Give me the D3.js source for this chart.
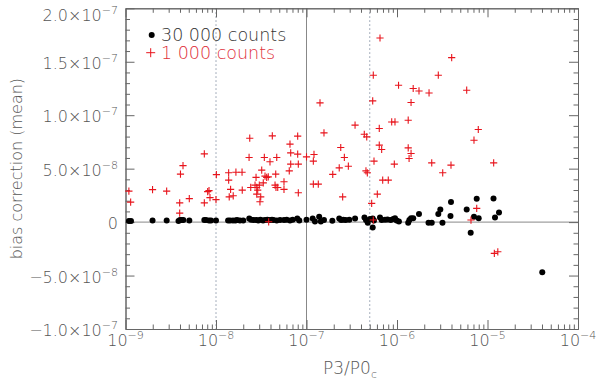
<!DOCTYPE html>
<html><head><meta charset="utf-8">
<script src="https://cdn.jsdelivr.net/npm/d3@7"></script>
<style>
body{margin:0;background:#fff}
svg{display:block}
text{font-family:"DejaVu Sans",sans-serif;font-weight:200}
</style>
</head><body><svg id="c" width="600" height="383"></svg>
<script>
// ---- data (x = P3/P0c, y = bias correction (mean)) ----
const series30k = [
[1.09e-9,0.1e-8],[1.15e-9,0.1e-8],[1.99e-9,0.14e-8],[2.85e-9,0.14e-8],[3.85e-9,0.1e-8],[4.0e-9,0.19e-8],[4.18e-9,0.19e-8],[4.35e-9,0.19e-8],[5.07e-9,0.14e-8],[7.43e-9,0.19e-8],[7.75e-9,0.19e-8],[8.37e-9,0.14e-8],[8.81e-9,0.14e-8],[1.0e-8,0.14e-8],
[1.36e-8,0.14e-8],[1.43e-8,0.14e-8],[1.54e-8,0.14e-8],[1.64e-8,0.14e-8],[1.71e-8,0.19e-8],[1.84e-8,0.14e-8],[2.0e-8,0.14e-8],[2.33e-8,0.33e-8],[2.44e-8,0.23e-8],[2.6e-8,0.19e-8],[2.8e-8,0.19e-8],[2.93e-8,0.14e-8],[3.1e-8,0.23e-8],[3.31e-8,0.14e-8],[3.48e-8,0.19e-8],[3.69e-8,0.23e-8],[3.95e-8,0.19e-8],[4.16e-8,0.23e-8],[4.32e-8,0.19e-8],[4.69e-8,0.14e-8],[5.1e-8,0.19e-8],[5.64e-8,0.19e-8],[6.04e-8,0.23e-8],[6.57e-8,0.14e-8],[7.04e-8,0.23e-8],[7.91e-8,0.33e-8],[8.33e-8,0.14e-8],
[1.0e-7,0.23e-8],[1.17e-7,0.33e-8],[1.24e-7,0.05e-8],[1.38e-7,0.51e-8],[1.44e-7,0.05e-8],[1.56e-7,0.19e-8],[1.93e-7,0.12e-8],[2.3e-7,0.33e-8],[2.41e-7,0.19e-8],[2.55e-7,0.23e-8],[2.71e-7,0.19e-8],[2.97e-7,0.23e-8],[3.44e-7,0.33e-8],[4.37e-7,0.42e-8],[4.54e-7,0.19e-8],[4.75e-7,-0.07e-8],[5.03e-7,0.28e-8],[5.39e-7,0.33e-8],[5.57e-7,0.14e-8],[5.39e-7,-0.5e-8],[6.49e-7,0.42e-8],[6.77e-7,0.19e-8],[7.37e-7,0.23e-8],[7.85e-7,0.25e-8],[8.52e-7,0.19e-8],[9.1e-7,0.28e-8],[9.5e-7,0.35e-8],[9.92e-7,0.14e-8],
[1.05e-6,0.05e-8],[1.33e-6,-0.05e-8],[1.37e-6,0.19e-8],[1.43e-6,0.35e-8],[1.51e-6,0.37e-8],[1.75e-6,0.75e-8],[2.23e-6,-0.05e-8],[2.42e-6,-0.05e-8],[2.86e-6,0.75e-8],[3.01e-6,1.19e-8],[3.18e-6,-0.07e-8],[3.9e-6,0.56e-8],[3.95e-6,1.87e-8],[5.89e-6,1.19e-8],[6.52e-6,-1.0e-8],[7.09e-6,0.5e-8],[7.6e-6,2.18e-8],[7.99e-6,0.35e-8],[1.165e-5,2.21e-8],[1.21e-5,0.44e-8],[1.34e-5,0.89e-8],[4.03e-5,-4.7e-8]
];
const series1k = [
[1.09e-9,2.90e-8],[1.14e-9,1.87e-8],[1.99e-9,3.04e-8],[2.85e-9,2.90e-8],[3.97e-9,0.84e-8],[3.97e-9,1.80e-8],[4.05e-9,4.49e-8],[4.32e-9,5.28e-8],[5.07e-9,2.20e-8],[7.43e-9,6.38e-8],[7.43e-9,1.80e-8],[8.09e-9,2.85e-8],[8.37e-9,2.94e-8],[8.58e-9,2.29e-8],[1.01e-8,4.44e-8],[1.0e-8,2.10e-8],
[1.38e-8,4.61e-8],[1.38e-8,3.93e-8],[1.45e-8,3.06e-8],[1.40e-8,2.36e-8],[1.55e-8,2.46e-8],[1.66e-8,4.67e-8],[1.94e-8,4.67e-8],[1.95e-8,2.99e-8],[2.36e-8,7.85e-8],[2.32e-8,6.05e-8],[2.42e-8,3.24e-8],[2.70e-8,3.46e-8],[2.77e-8,4.18e-8],[2.82e-8,3.24e-8],[2.82e-8,2.62e-8],[2.89e-8,2.99e-8],[3.01e-8,3.46e-8],[3.12e-8,2.36e-8],[3.06e-8,1.90e-8],[3.20e-8,4.86e-8],[3.33e-8,3.67e-8],[3.42e-8,6.05e-8],[3.48e-8,4.30e-8],[3.63e-8,4.18e-8],[3.78e-8,4.23e-8],[3.95e-8,5.64e-8],[4.19e-8,8.07e-8],[4.49e-8,3.46e-8],[4.57e-8,4.49e-8],[4.69e-8,6.05e-8],[4.60e-8,3.24e-8],[4.81e-8,3.24e-8],[5.64e-8,3.77e-8],[5.64e-8,3.06e-8],[6.57e-8,7.29e-8],[6.45e-8,4.79e-8],[6.69e-8,6.48e-8],[6.69e-8,5.42e-8],[7.99e-8,8.04e-8],[7.99e-8,6.36e-8],[8.12e-8,5.42e-8],[8.12e-8,2.74e-8],[1.0e-7,6.10e-8],[3.82e-8,0.03e-8],
[6.49e-7,17.22e-8],[5.47e-7,13.74e-8],[1.04e-6,12.80e-8],[1.41e-7,11.15e-8],[5.39e-7,11.34e-8],[8.74e-7,9.37e-8],[9.50e-7,9.37e-8],[3.44e-7,9.07e-8],[6.37e-7,8.76e-8],[1.56e-7,8.35e-8],[4.35e-7,8.22e-8],[4.63e-7,7.97e-8],[6.37e-7,7.20e-8],[6.77e-7,6.79e-8],[2.39e-7,6.98e-8],[2.62e-7,6.05e-8],[1.21e-7,6.33e-8],[1.19e-7,5.70e-8],[5.57e-7,5.70e-8],[9.34e-7,5.42e-8],[2.90e-7,5.23e-8],[2.30e-7,5.07e-8],[4.54e-7,4.79e-8],[4.70e-7,4.61e-8],[1.95e-7,4.46e-8],[6.95e-7,3.93e-8],[8.01e-7,3.93e-8],[1.19e-7,3.55e-8],[1.35e-7,3.55e-8],[6.06e-7,2.62e-8],[2.51e-7,2.36e-8],[5.25e-7,1.75e-8],[5.47e-7,0.19e-8],
[4.02e-6,15.39e-8],[2.86e-6,13.74e-8],[1.51e-6,12.50e-8],[1.75e-6,12.27e-8],[2.26e-6,12.08e-8],[5.89e-6,12.34e-8],[1.43e-6,11.19e-8],[1.33e-6,9.53e-8],[7.91e-6,8.66e-8],[7.09e-6,7.66e-8],[1.33e-6,6.94e-8],[1.43e-6,6.42e-8],[1.36e-6,5.95e-8],[2.42e-6,5.54e-8],[3.95e-6,5.33e-8],[3.20e-6,4.61e-8],[1.17e-5,5.54e-8],[7.60e-6,1.28e-8],[6.57e-6,0.19e-8],[1.19e-5,-2.93e-8],[1.30e-5,-2.78e-8]
];
const seriesNames = ["30 000 counts","1 000 counts"];
const xTickValues = [1e-9,1e-8,1e-7,1e-6,1e-5,1e-4];
const xTickExps = ["\u22129","\u22128","\u22127","\u22126","\u22125","\u22124"];
const yTickValues = [-1e-7,-5e-8,0,5e-8,1e-7,1.5e-7,2e-7];
const yTickMant = ["\u22121.0\u00d710","\u22125.0\u00d710","0","5.0\u00d710","1.0\u00d710","1.5\u00d710","2.0\u00d710"];
const yTickExps = ["\u22127","\u22128","","\u22128","\u22127","\u22127","\u22127"];
const solidRefX = [1e-7];
const dottedRefX = [1e-8,5e-7];
const xTitle = "P3/P0", xTitleSub = "c";
const yTitle = "bias correction (mean)";

// ---- layout ----
const L=125.5, R=578, T=8.3, B=329;
const svg = d3.select("#c");
const x = d3.scaleLog().domain([1e-9,1e-4]).range([L,R]);
const y = d3.scaleLinear().domain([-1e-7,2e-7]).range([B,T]);
const axisCol = "#666", labCol = "#555";
const redCol = "#e8141c";

// reference lines
svg.append("g").selectAll("line").data(dottedRefX).join("line")
  .attr("x1",d=>x(d)).attr("x2",d=>x(d)).attr("y1",T).attr("y2",B)
  .attr("stroke","#8a96a8").attr("stroke-width",1).attr("stroke-dasharray","1.5,2.5");
svg.append("g").selectAll("line").data(solidRefX).join("line")
  .attr("x1",d=>x(d)).attr("x2",d=>x(d)).attr("y1",T).attr("y2",B)
  .attr("stroke","#888").attr("stroke-width",1);
svg.append("line").attr("x1",L).attr("x2",R).attr("y1",y(0)).attr("y2",y(0))
  .attr("stroke","#888").attr("stroke-width",1);

// axes
const xMinor = [];
for (let e=-9;e<-4;e++) for (let m=2;m<=9;m++) xMinor.push(m*Math.pow(10,e));
const yMinor = d3.range(-10,21).filter(i=>i%5!==0).map(i=>i*1e-8);

function styleAxis(g){
  g.selectAll("path,line").attr("stroke",axisCol).attr("stroke-width",1);
  g.selectAll("text").remove();
}
svg.append("g").attr("transform",`translate(0,${B})`)
  .call(d3.axisBottom(x).tickValues(xTickValues).tickSize(-9).tickSizeOuter(0).tickFormat("")).call(styleAxis);
svg.append("g").attr("transform",`translate(0,${B})`)
  .call(d3.axisBottom(x).tickValues(xMinor).tickSize(-4.5).tickSizeOuter(0).tickFormat("")).call(styleAxis);
svg.append("g").attr("transform",`translate(0,${T})`)
  .call(d3.axisTop(x).tickValues(xTickValues).tickSize(-9).tickSizeOuter(0).tickFormat("")).call(styleAxis);
svg.append("g").attr("transform",`translate(0,${T})`)
  .call(d3.axisTop(x).tickValues(xMinor).tickSize(-4.5).tickSizeOuter(0).tickFormat("")).call(styleAxis);
svg.append("g").attr("transform",`translate(${L},0)`)
  .call(d3.axisLeft(y).tickValues(yTickValues).tickSize(-9).tickSizeOuter(0).tickFormat("")).call(styleAxis);
svg.append("g").attr("transform",`translate(${L},0)`)
  .call(d3.axisLeft(y).tickValues(yMinor).tickSize(-4.5).tickSizeOuter(0).tickFormat("")).call(styleAxis);
svg.append("g").attr("transform",`translate(${R},0)`)
  .call(d3.axisRight(y).tickValues(yTickValues).tickSize(-9).tickSizeOuter(0).tickFormat("")).call(styleAxis);
svg.append("g").attr("transform",`translate(${R},0)`)
  .call(d3.axisRight(y).tickValues(yMinor).tickSize(-4.5).tickSizeOuter(0).tickFormat("")).call(styleAxis);

// x tick labels
const xl = svg.append("g").selectAll("text").data(xTickValues).join("text")
  .attr("x",d=>x(d)).attr("y",346).attr("text-anchor","middle")
  .attr("fill",labCol).attr("font-size",16);
xl.append("tspan").text("10");
xl.append("tspan").attr("dy",-7).attr("font-size",11).text((d,i)=>xTickExps[i]);

// y tick labels (top label kept inside the picture, as in the reference)
const yl = svg.append("g").selectAll("text").data(yTickValues).join("text")
  .attr("x",118).attr("y",d=>Math.max(y(d)+7, 21)).attr("text-anchor","end")
  .attr("fill",labCol).attr("font-size",16);
yl.append("tspan").text((d,i)=>yTickMant[i]);
yl.append("tspan").attr("dy",-7).attr("font-size",11).text((d,i)=>yTickExps[i]);

// titles
const xt = svg.append("text").attr("x",350).attr("y",374).attr("text-anchor","middle")
  .attr("fill",labCol).attr("font-size",17);
xt.append("tspan").text(xTitle);
xt.append("tspan").attr("dy",4).attr("font-size",11).text(xTitleSub);
svg.append("text").attr("transform",`translate(22,${(T+B)/2}) rotate(-90)`)
  .attr("text-anchor","middle").attr("fill",labCol).attr("font-size",16).text(yTitle);

// data
svg.append("g").selectAll("circle").data(series30k).join("circle")
  .attr("cx",d=>x(d[0])).attr("cy",d=>y(d[1])).attr("r",3).attr("fill","#000");
const plus = (s)=>`M${-s},0H${s}M0,${-s}V${s}`;
svg.append("g").selectAll("path").data(series1k).join("path")
  .attr("transform",d=>`translate(${x(d[0])},${y(d[1])})`)
  .attr("d",plus(3.6)).attr("stroke",redCol).attr("stroke-width",1.1).attr("fill","none");

// legend
svg.append("circle").attr("cx",151.7).attr("cy",35).attr("r",3).attr("fill","#000");
svg.append("text").attr("x",161).attr("y",41).attr("fill","#333").attr("font-size",17.5).text(seriesNames[0]);
svg.append("path").attr("transform","translate(150.7,52.7)").attr("d",plus(4.5))
  .attr("stroke",redCol).attr("stroke-width",1).attr("fill","none");
svg.append("text").attr("x",161).attr("y",59).attr("fill","#e0303a").attr("font-size",17.5).text(seriesNames[1]);
</script></body></html>
